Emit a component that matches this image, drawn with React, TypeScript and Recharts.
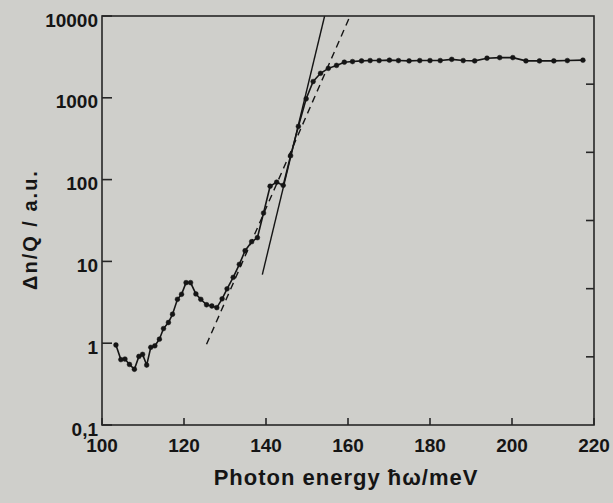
import { Line, LineChart, XAxis, YAxis } from "recharts";

const energy = [
  103.4, 104.6, 105.6, 106.7, 107.9, 109.0, 109.9, 110.9, 111.9, 112.9,
  114.0, 115.0, 116.2, 117.2, 118.4, 119.4, 120.5, 121.6, 122.9, 124.1,
  125.5, 126.8, 128.0, 129.3, 130.5, 132.0, 133.5, 134.9, 136.5, 137.9,
  139.4, 141.0, 142.6, 144.2, 146.0, 147.9, 149.8, 151.5, 153.3, 155.2,
  157.2, 159.1, 161.1, 163.3, 165.4, 167.6, 170.1, 172.3, 174.9, 177.5,
  180.0, 182.5, 185.3, 188.1, 190.9, 193.9, 197.0, 200.2, 203.4, 206.7,
  210.2, 213.5, 217.3,
];
const signal = [
  0.95, 0.63, 0.64, 0.55, 0.48, 0.69, 0.73, 0.54, 0.89, 0.93,
  1.12, 1.51, 1.79, 2.26, 3.44, 3.96, 5.5, 5.5, 4.0, 3.44,
  2.95, 2.85, 2.72, 3.49, 4.62, 6.38, 9.2, 13.5, 17.4, 19.5,
  39, 83, 93, 85, 196, 447, 972, 1581, 1991, 2290,
  2490, 2725, 2773, 2827, 2852, 2852, 2884, 2852, 2827, 2852,
  2852, 2852, 2950, 2852, 2827, 3050, 3100, 3100, 2827, 2827,
  2827, 2852, 2884,
];

// straight-line (exponential) fits drawn over the data
const solidFitE = [139.1, 154.3];
const solidFitV = [6.9, 10000];
const dashedFitE = [125.5, 160.5];
const dashedFitV = [0.97, 10000];

const xTicks = [100, 120, 140, 160, 180, 200, 220];
const yTicks = [0.1, 1, 10, 100, 1000, 10000];
// the right-hand frame edge carries 5 unlabeled ticks splitting it into sixths
const rightTicks = [1, 2, 3, 4, 5];

const X_MIN = 100;
const X_MAX = 220;
const Y_MIN = 0.1;
const Y_MAX = 10000;

const W = 613;
const H = 503;
const MARGIN = { top: 16, right: 19, left: 0, bottom: 0 };
const Y_AXIS_W = 102;
const X_AXIS_H = 78;

const BG = "#cfcfcb";
const INK = "#151515";
const AXIS = "#262626";
const FONT = "'Liberation Sans', Arial, sans-serif";

const measured = energy.map((e, i) => ({ e, v: signal[i] }));
const solidFit = solidFitE.map((e, i) => ({ e, v: solidFitV[i] }));
const dashedFit = dashedFitE.map((e, i) => ({ e, v: dashedFitV[i] }));

// plot rectangle, as laid out by the chart's margins and axis sizes
const plotL = MARGIN.left + Y_AXIS_W;
const plotT = MARGIN.top;
const plotR = W - MARGIN.right;
const plotB = H - MARGIN.bottom - X_AXIS_H;
const px = (e: number) => plotL + ((e - X_MIN) / (X_MAX - X_MIN)) * (plotR - plotL);
const py = (v: number) =>
  plotB - (Math.log10(v / Y_MIN) / Math.log10(Y_MAX / Y_MIN)) * (plotB - plotT);

function Frame() {
  return (
    <svg
      width={W}
      height={H}
      style={{ position: "absolute", left: 0, top: 0, pointerEvents: "none" }}
    >
      <g stroke={AXIS} strokeWidth={1.6} fill="none">
        <rect x={plotL} y={plotT} width={plotR - plotL} height={plotB - plotT} />
        {yTicks.map((v) => (
          <line key={"l" + v} x1={plotL} x2={plotL + 10} y1={py(v)} y2={py(v)} />
        ))}
        {xTicks.map((e) => (
          <line key={"b" + e} x1={px(e)} x2={px(e)} y1={plotB} y2={plotB - 7} />
        ))}
        {rightTicks.map((k) => {
          const y = plotT + ((plotB - plotT) * k) / 6;
          return <line key={"r" + k} x1={plotR} x2={plotR - 8} y1={y} y2={y} />;
        })}
      </g>
    </svg>
  );
}

function LeftTick(props: any) {
  const { x, y, payload } = props;
  const v = payload.value;
  const label = v === 0.1 ? "0,1" : String(v);
  return (
    <text
      x={x - 4}
      y={y + 4}
      textAnchor="end"
      dominantBaseline="central"
      fontFamily={FONT}
      fontWeight="bold"
      fontSize={19}
      fill={INK}
    >
      {label}
    </text>
  );
}

function BottomTick(props: any) {
  const { x, y, payload } = props;
  return (
    <text
      x={x}
      y={y + 20}
      textAnchor="middle"
      dominantBaseline="central"
      fontFamily={FONT}
      fontWeight="bold"
      fontSize={19}
      fill={INK}
    >
      {payload.value}
    </text>
  );
}

function XTitle(props: any) {
  const { x, y, width } = props.viewBox;
  return (
    <text
      x={x + width / 2 - 2}
      y={y + 60}
      textAnchor="middle"
      fontFamily={FONT}
      fontWeight="bold"
      fontSize={22}
      letterSpacing={1}
      fill={INK}
    >
      Photon energy ħω/meV
    </text>
  );
}

function YTitle(props: any) {
  const { x, y, height } = props.viewBox;
  const cx = x + 30;
  const cy = y + height / 2 + 9;
  return (
    <text
      x={cx}
      y={cy}
      transform={`rotate(-90 ${cx} ${cy})`}
      textAnchor="middle"
      dominantBaseline="central"
      fontFamily={FONT}
      fontWeight="bold"
      fontSize={20}
      letterSpacing={2}
      fill={INK}
    >
      Δn/Q / a.u.
    </text>
  );
}

export default function App() {
  return (
    <div
      style={{
        position: "fixed",
        left: 0,
        top: 0,
        width: W,
        height: H,
        background: BG,
      }}
    >
      <LineChart width={W} height={H} margin={MARGIN}>
        <XAxis
          dataKey="e"
          type="number"
          domain={[X_MIN, X_MAX]}
          ticks={xTicks}
          height={X_AXIS_H}
          tickSize={0}
          tickMargin={0}
          tickLine={false}
          axisLine={false}
          tick={<BottomTick />}
          label={<XTitle />}
        />
        <YAxis
          type="number"
          scale="log"
          domain={[Y_MIN, Y_MAX]}
          ticks={yTicks}
          width={Y_AXIS_W}
          tickSize={0}
          tickMargin={0}
          tickLine={false}
          axisLine={false}
          tick={<LeftTick />}
          label={<YTitle />}
        />
        <Line
          data={solidFit}
          dataKey="v"
          type="linear"
          stroke={INK}
          strokeWidth={1.4}
          dot={false}
          isAnimationActive={false}
        />
        <Line
          data={dashedFit}
          dataKey="v"
          type="linear"
          stroke={INK}
          strokeWidth={1.4}
          strokeDasharray="7 5"
          dot={false}
          isAnimationActive={false}
        />
        <Line
          data={measured}
          dataKey="v"
          type="linear"
          stroke={INK}
          strokeWidth={1.6}
          dot={{ r: 2.4, fill: INK, stroke: INK, strokeWidth: 0.5 }}
          isAnimationActive={false}
        />
      </LineChart>
      <Frame />
    </div>
  );
}
